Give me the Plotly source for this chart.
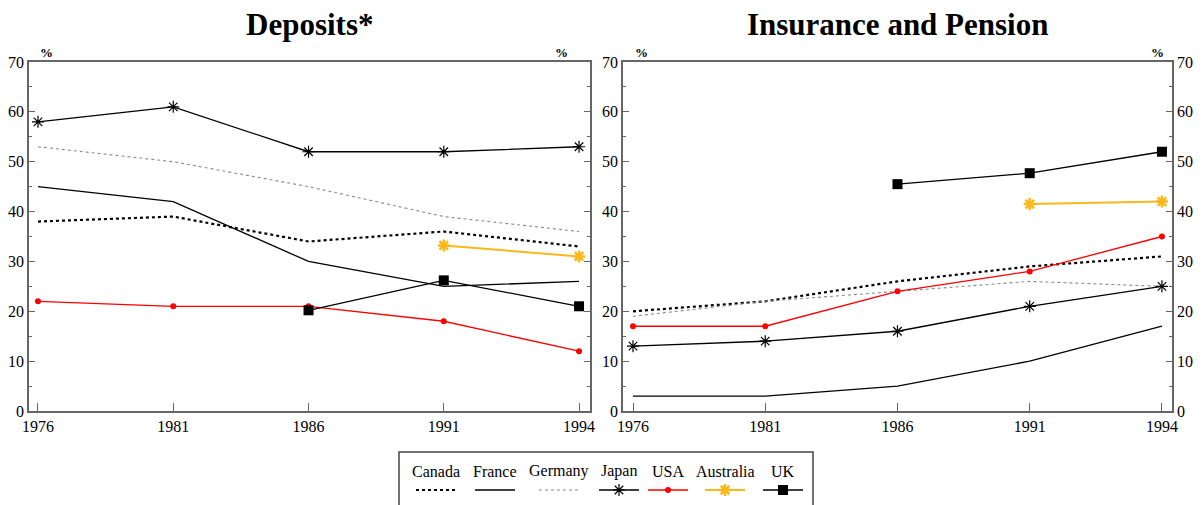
import plotly.graph_objects as go

# ---------------- data ----------------
years = ["1976", "1981", "1986", "1991", "1994"]
series_names = ["Canada", "France", "Germany", "Japan", "USA", "Australia", "UK"]

dep_canada = [38, 39, 34, 36, 33]
dep_france = [45, 42, 30, 25, 26]
dep_germany = [53, 50, 45, 39, 36]
dep_japan = [58, 61, 52, 52, 53]
dep_usa = [22, 21, 21, 18, 12]
dep_australia = [None, None, None, 33.2, 31]
dep_uk = [None, None, 20.2, 26.2, 21]

ins_canada = [20, 22, 26, 29, 31]
ins_france = [3, 3, 5, 10, 17]
ins_germany = [19, 22, 24, 26, 25]
ins_japan = [13, 14, 16, 21, 25]
ins_usa = [17, 17, 24, 28, 35]
ins_australia = [None, None, None, 41.5, 42]
ins_uk = [None, None, 45.5, 47.7, 52]

titles = ["Deposits*", "Insurance and Pension"]

# ---------------- styles ----------------
ORANGE = "#F9B81B"
styles = {
    "Canada": dict(line=dict(color="black", width=2.2, dash="dot"), mode="lines", marker=dict()),
    "France": dict(line=dict(color="black", width=1.3), mode="lines", marker=dict()),
    "Germany": dict(line=dict(color="#8a8a8a", width=1.1, dash="3px,3px"), mode="lines", marker=dict()),
    "Japan": dict(line=dict(color="black", width=1.3), mode="lines+markers",
                  marker=dict(symbol="asterisk-open", size=10, color="black", line=dict(color="black", width=1.2))),
    "USA": dict(line=dict(color="#ff0000", width=1.3), mode="lines+markers",
                marker=dict(symbol="circle", size=6, color="#ff0000")),
    "Australia": dict(line=dict(color=ORANGE, width=2), mode="lines+markers",
                      marker=dict(symbol="asterisk-open", size=10, color=ORANGE, line=dict(color=ORANGE, width=2.5))),
    "UK": dict(line=dict(color="black", width=1.3), mode="lines+markers",
               marker=dict(symbol="square", size=10, color="black")),
}

dep = dict(zip(series_names, [dep_canada, dep_france, dep_germany, dep_japan, dep_usa, dep_australia, dep_uk]))
ins = dict(zip(series_names, [ins_canada, ins_france, ins_germany, ins_japan, ins_usa, ins_australia, ins_uk]))

W, H = 1203, 505
FONT = "Liberation Serif"

fig = go.Figure()

for name in series_names:
    s = styles[name]
    fig.add_trace(go.Scatter(x=years, y=dep[name], name=name, mode=s["mode"], line=s["line"],
                             marker=s["marker"], xaxis="x", yaxis="y", showlegend=False,
                             cliponaxis=False))
for name in series_names:
    s = styles[name]
    # UK drawn on the right-hand (mirror) axis of the second panel so that axis renders
    ya = "y3" if name == "UK" else "y2"
    fig.add_trace(go.Scatter(x=years, y=ins[name], name=name, mode=s["mode"], line=s["line"],
                             marker=s["marker"], xaxis="x2", yaxis=ya, showlegend=False,
                             cliponaxis=False))

# ---------------- custom legend (name above sample) ----------------
leg_centers = [436, 495, 559, 619, 668, 725, 783]   # pixel x of each legend item
leg_half = 20
leg_text_y = 471
leg_line_y = 490
for name, cx in zip(series_names, leg_centers):
    s = styles[name]
    fig.add_trace(go.Scatter(x=[cx - leg_half, cx + leg_half], y=[leg_line_y, leg_line_y], mode="lines",
                             line=s["line"], xaxis="x3", yaxis="y4", showlegend=False, hoverinfo="skip"))
    if "markers" in s["mode"]:
        fig.add_trace(go.Scatter(x=[cx], y=[leg_line_y], mode="markers", marker=s["marker"],
                                 xaxis="x3", yaxis="y4", showlegend=False, hoverinfo="skip"))
    fig.add_annotation(x=cx / W, y=1 - leg_text_y / H, xref="paper", yref="paper", text=name,
                       showarrow=False, font=dict(family=FONT, size=16, color="black"),
                       xanchor="center", yanchor="middle")

fig.add_shape(type="rect", xref="paper", yref="paper", x0=399 / W, x1=813 / W,
              y0=-0.05, y1=1 - 452 / H, line=dict(color="#444", width=1.5), fillcolor="rgba(0,0,0,0)")

# ---------------- axes ----------------
AX = "#666666"
y_bot, y_top = 1 - 411 / H, 1 - 62 / H
xd1 = [29 / W, 590 / W]
xd2 = [623 / W, 1172 / W]

tickfont = dict(family=FONT, size=16, color="black")

def xaxis(domain, rng, anchor):
    return dict(domain=domain, anchor=anchor, type="category", range=rng, automargin=False,
                showgrid=False, zeroline=False, showline=True, linecolor=AX, linewidth=1.5,
                mirror=True, ticks="inside", ticklen=8, tickcolor=AX, tickwidth=1,
                tickfont=tickfont, fixedrange=True)

def yaxis(anchor, side="left", mirror="ticks", overlaying=None, labels=True):
    d = dict(domain=[y_bot, y_top], anchor=anchor, range=[0, 70], dtick=10, tick0=0, automargin=False,
             showgrid=False, zeroline=False, showline=True, linecolor=AX, linewidth=1.5,
             mirror=mirror, ticks="inside", ticklen=6, tickcolor=AX, tickwidth=1,
             minor=dict(dtick=5, tick0=0, ticks="inside", ticklen=3, tickcolor=AX, tickwidth=1),
             tickfont=tickfont, side=side, showticklabels=labels, fixedrange=True)
    if overlaying:
        d["overlaying"] = overlaying
    return d

fig.update_layout(
    width=W, height=H,
    margin=dict(l=0, r=0, t=0, b=0, autoexpand=False),
    paper_bgcolor="white", plot_bgcolor="rgba(0,0,0,0)",
    showlegend=False,
    xaxis=xaxis(xd1, [-0.0665, 4.081], "y"),
    yaxis=yaxis("x"),
    xaxis2=xaxis(xd2, [-0.0756, 4.076], "y2"),
    yaxis2=yaxis("x2", mirror=True),
    yaxis3=yaxis("x2", side="right", mirror=False, overlaying="y2"),
    xaxis3=dict(domain=[0, 1], range=[0, W], visible=False, anchor="y4", fixedrange=True, automargin=False),
    yaxis4=dict(domain=[0, 1], range=[H, 0], visible=False, anchor="x3", fixedrange=True, automargin=False),
)

# titles
for t, d in zip(titles, [xd1, xd2]):
    fig.add_annotation(x=(d[0] + d[1]) / 2, y=1 - 24 / H, xref="paper", yref="paper", text=t,
                       showarrow=False, font=dict(family=FONT, size=31, color="black", weight="bold"),
                       xanchor="center", yanchor="middle")

# % markers above the axes
for px in [46, 561, 641, 1157]:
    fig.add_annotation(x=px / W, y=1 - 53 / H, xref="paper", yref="paper", text="%",
                       showarrow=False, font=dict(family=FONT, size=13, color="black", weight="bold"),
                       xanchor="center", yanchor="middle")

fig.write_html("out.html", config={"displayModeBar": False},
               post_script="document.body.style.margin='0px';document.body.style.overflow='hidden';")
